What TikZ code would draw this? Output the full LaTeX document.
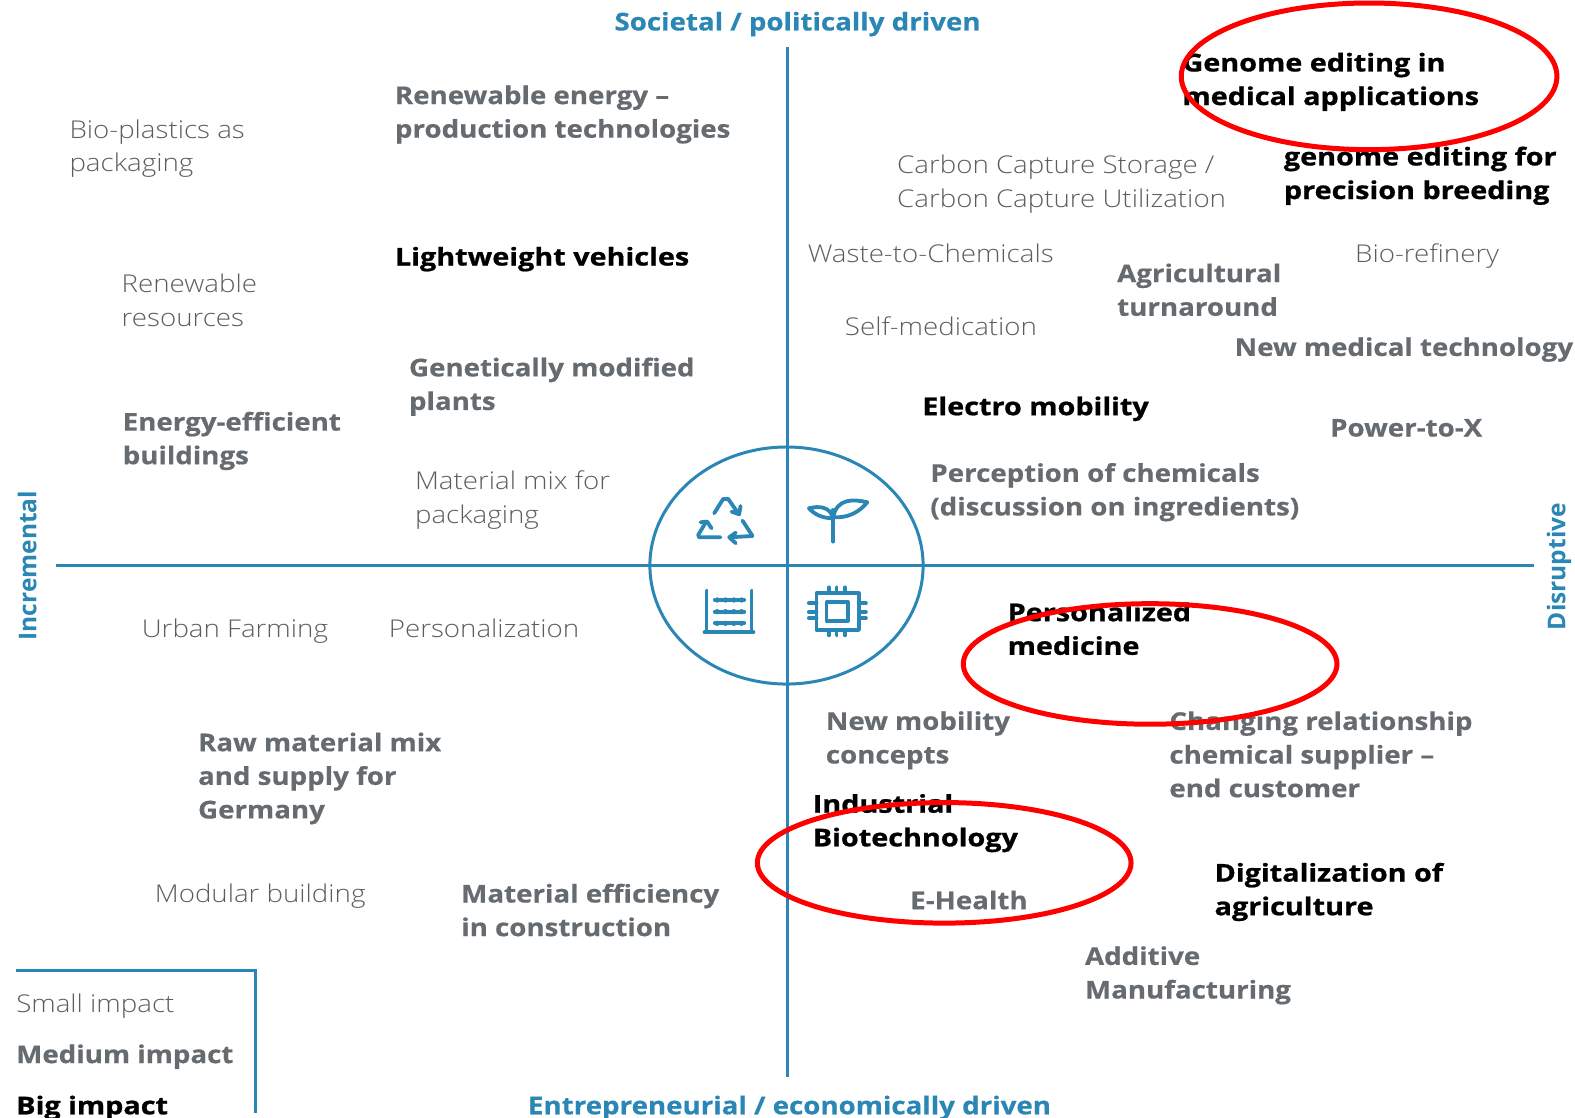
\documentclass[tikz,border=0pt]{standalone}
\usepackage{fontspec}
\setmainfont{Open Sans}[FakeStretch=1.13]
\newfontfamily\lightfont{Open Sans Light}[FakeStretch=1.13]
\newfontfamily\heavyfont{Open Sans}[FakeStretch=1.13,BoldFeatures={FakeBold=0.5}]
\newfontfamily\blackfont{Open Sans}[FakeStretch=1.175,BoldFeatures={FakeBold=0.9}]
\newfontfamily\uprightfont{Open Sans}
\usetikzlibrary{shapes.geometric}
\definecolor{axisblue}{HTML}{2A86B5}
\definecolor{midgray}{HTML}{666B70}
\definecolor{lightgray}{HTML}{5A5E62}
\definecolor{ringred}{HTML}{FF0000}
\tikzset{
  x=1.0045pt,y=-1.0045pt,
  label base/.style={inner sep=0pt,anchor=west,align=left},
  small/.style={label base,text=lightgray,font=\lightfont\fontsize{24.5}{33.6}\selectfont},
  medium/.style={label base,text=midgray,font=\heavyfont\bfseries\fontsize{24.5}{33.6}\selectfont},
  big/.style={label base,text=black,font=\blackfont\bfseries\fontsize{24.5}{33.6}\selectfont},
  axislabel/.style={inner sep=0pt,text=axisblue,font=\heavyfont\bfseries\fontsize{24.5}{30}\selectfont},
  axisside/.style={inner sep=0pt,text=axisblue,rotate=90,font=\uprightfont\bfseries\fontsize{24.5}{30}\selectfont},
  axisline/.style={draw=axisblue,line width=3pt},
  iconline/.style={draw=axisblue,line width=3.8pt,line cap=round,line join=round},
  ring/.style={draw=ringred,line width=5pt},
}
\begin{document}
\begin{tikzpicture}
\useasboundingbox (0,0) rectangle (1568,1113);
% axes
\coordinate (axT) at (784,47); \coordinate (axB) at (784,1072);
\coordinate (axL) at (56,563); \coordinate (axR) at (1527,563);
\draw[axisline,line width=3.5pt] (axT) -- (axB);
\draw[axisline] (axL) -- (axR);
\draw[axisline] (783,563) ellipse [x radius=136,y radius=118];
% axis labels
\node[axislabel] (lblTop) at (794,24) {Societal / politically driven};
\node[axislabel] (lblBottom) at (786,1103) {Entrepreneurial / economically driven};
\node[axisside] (lblLeft) at (27,563) {Incremental};
\node[axisside] (lblRight) at (1552,564) {Disruptive};
% left half
\node[small] (n1) at (69,148) {Bio-plastics as\\packaging};
\node[medium] (n2) at (393,114) {Renewable energy –\\production technologies};
\node[big] (n3) at (393,258) {Lightweight vehicles};
\node[small] (n4) at (121,299) {Renewable\\resources};
\node[medium] (n5) at (407,385) {Genetically modified\\plants};
\node[medium] (n6) at (122,439) {Energy-efficient\\buildings};
\node[small] (n7) at (413,498) {Material mix for\\packaging};
\node[small] (n8) at (141,628) {Urban Farming};
\node[small] (n9) at (387,626) {Personalization};
\node[medium] (n10) at (197,775) {Raw material mix\\and supply for\\Germany};
\node[small] (n11) at (154,892) {Modular building};
\node[medium] (n12) at (459,906) {Material efficiency\\in construction};
% right half
\node[big] (n13) at (1177,81.5) {Genome editing in\\medical applications};
\node[small] (n14) at (893,183.5) {Carbon Capture Storage /\\Carbon Capture Utilization};
\node[big] (n15) at (1278,175) {genome editing for\\precision breeding};
\node[small] (n16) at (804,252) {Waste-to-Chemicals};
\node[medium] (n17) at (1112,288.5) {Agricultural\\turnaround};
\node[small] (n18) at (1349,255) {Bio-refinery};
\node[small] (n19) at (841,325) {Self-medication};
\node[medium] (n20) at (1229,348) {New medical technology};
\node[big] (n21) at (918,407) {Electro mobility};
\node[medium] (n22) at (1324,426) {Power-to-X};
\node[medium] (n23) at (926,490) {Perception of chemicals\\(discussion on ingredients)};
\node[big] (n24) at (1003,626) {Personalized\\medicine};
\node[medium] (n25) at (822,737) {New mobility\\concepts};
\node[medium] (n26) at (1164,751) {Changing relationship\\chemical supplier –\\end customer};
\node[big] (n27) at (809,819.5) {Industrial\\Biotechnology};
\node[medium] (n28) at (906,896) {E-Health};
\node[big] (n29) at (1209,888) {Digitalization of\\agriculture};
\node[medium] (n30) at (1080,971) {Additive\\Manufacturing};
% legend
\draw[axisline,line join=miter] (16,966) -- (254,966) -- (254,1108);
\node[small] (l1) at (16,1002) {Small impact};
\node[medium] (l2) at (16,1052) {Medium impact};
\node[big] (l3) at (16,1103) {Big impact};
% icons, in a 3x local grid
\begin{scope}[shift={(627,428)},x=0.3335pt,y=-0.3335pt]
  % recycle
  \draw[iconline] (253,250) -- (280,207) -- (295,207) -- (325,250);
  \draw[iconline] (305,245) -- (328,253) -- (332,228);
  \draw[iconline] (338,272) -- (368,318) -- (300,322);
  \draw[iconline] (318,308) -- (298,322) -- (318,340);
  \draw[iconline] (272,322) -- (208,322) -- (205,315) -- (228,277);
  \draw[iconline] (212,277) -- (232,275) -- (245,295);
  % sprout
  \draw[iconline] (610,335) -- (610,240);
  \draw[iconline] (610,265) .. controls (580,265) and (555,255) .. (537,235) .. controls (565,228) and (600,228) .. (610,265);
  \draw[iconline] (610,262) .. controls (655,265) and (690,245) .. (712,217) .. controls (670,207) and (620,205) .. (610,262);
  % abacus
  \draw[iconline] (230,482) -- (230,607);
  \draw[iconline] (365,482) -- (365,607);
  \draw[iconline] (224,607) -- (371,607);
  \foreach \yy in {510,545,580}{
    \draw[iconline] (255,\yy) -- (343,\yy);
    \foreach \xx in {262,287,312,335}{\fill[axisblue] (\xx,\yy) circle [radius=8];}
  }
  % chip
  \draw[iconline] (560,490) rectangle (687,600);
  \draw[iconline] (590,517) rectangle (655,572);
  \foreach \xx in {597,620,645}{
    \draw[iconline] (\xx,472) -- (\xx,490);
    \draw[iconline] (\xx,600) -- (\xx,616);
  }
  \foreach \yy in {520,545,565}{
    \draw[iconline] (537,\yy) -- (560,\yy);
    \draw[iconline] (687,\yy) -- (708,\yy);
  }
\end{scope}
% red rings
\draw[ring] (1363,76) ellipse [x radius=187,y radius=73];
\draw[ring] (1145,661) ellipse [x radius=186,y radius=60];
\draw[ring] (940,859) ellipse [x radius=186,y radius=60];
\end{tikzpicture}
\end{document}
